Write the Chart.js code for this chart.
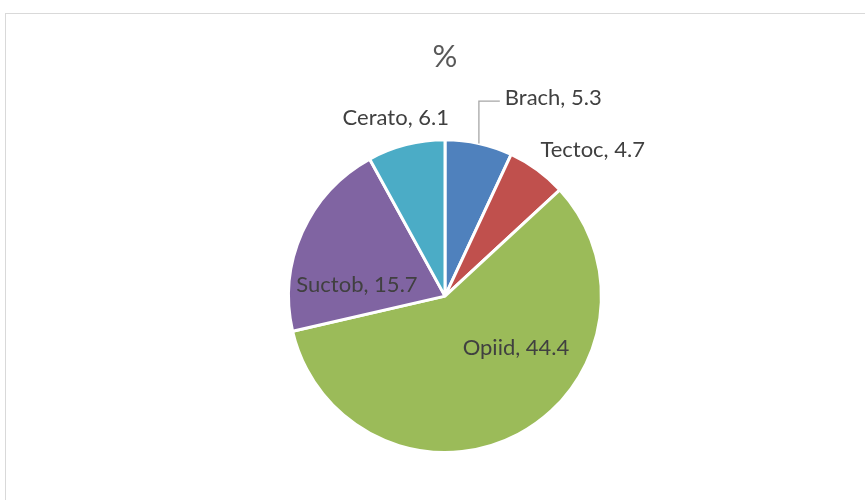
<!DOCTYPE html>
<html>
<head>
<meta charset="utf-8">
<script src="https://cdn.jsdelivr.net/npm/chart.js@4.4.1/dist/chart.umd.min.js"></script>
<style>
  html, body { margin: 0; padding: 0; background: #fff; }
  #wrap { width: 865px; height: 500px; }
</style>
</head>
<body>
<div id="wrap"><canvas id="pieChart" width="865" height="500"></canvas></div>
<script>
const categories = ['Brach', 'Tectoc', 'Opiid', 'Suctob', 'Cerato'];
const values = [5.3, 4.7, 44.4, 15.7, 6.1];
const colors = ['#4F81BD', '#C0504D', '#9BBB59', '#8064A2', '#4BACC6'];

// where Excel put each data label: angle (deg, clockwise from top) and distance in radii
const labelAngle = [28.3, 44.8, 124.4, 279.1, 344.8];
const labelDist = [1.46, 1.34, 0.55, 0.57, 1.20];

const fontFamily = 'Lato, "Open Sans", sans-serif';

const frame = {
  id: 'frame',
  beforeDraw(chart) {
    const ctx = chart.ctx;
    ctx.save();
    ctx.strokeStyle = '#D9D9D9';
    ctx.lineWidth = 1;
    ctx.strokeRect(5.5, 13.5, 900, 600);
    ctx.restore();
  }
};

const pieLabels = {
  id: 'pieLabels',
  afterDatasetsDraw(chart) {
    const ctx = chart.ctx;
    const arcs = chart.getDatasetMeta(0).data;
    ctx.save();
    ctx.font = '22px ' + fontFamily;
    ctx.fillStyle = '#404040';
    ctx.textAlign = 'center';
    ctx.textBaseline = 'middle';
    arcs.forEach((arc, i) => {
      const p = arc.getProps(['x', 'y', 'outerRadius', 'startAngle', 'endAngle']);
      const a = labelAngle[i] * Math.PI / 180;
      const r = p.outerRadius * labelDist[i];
      const lx = p.x + r * Math.sin(a);
      const ly = p.y - r * Math.cos(a) + 3;
      const text = categories[i] + ', ' + values[i];
      ctx.fillText(text, lx, ly);
      if (i === 0) {
        // leader line for the first label
        const mid = (p.startAngle + p.endAngle) / 2;
        const ex = p.x + p.outerRadius * Math.cos(mid);
        const ey = p.y + p.outerRadius * Math.sin(mid);
        const w = ctx.measureText(text).width;
        ctx.strokeStyle = '#A6A6A6';
        ctx.lineWidth = 1.3;
        ctx.beginPath();
        ctx.moveTo(ex, ey);
        ctx.lineTo(ex, ly + 3);
        ctx.lineTo(lx - w / 2 - 5, ly + 3);
        ctx.stroke();
      }
    });
    ctx.restore();
  }
};

new Chart(document.getElementById('pieChart'), {
  type: 'pie',
  data: {
    labels: categories,
    datasets: [{
      data: values,
      backgroundColor: colors,
      borderColor: '#FFFFFF',
      borderWidth: 3,
      hoverOffset: 0,
      offset: 0
    }]
  },
  options: {
    responsive: false,
    animation: false,
    layout: { padding: { top: 0, bottom: 46, left: 287, right: 262 } },
    plugins: {
      legend: { display: false },
      tooltip: { enabled: false },
      title: {
        display: true,
        text: '%',
        color: '#595959',
        font: { family: fontFamily, size: 31, weight: 'normal' },
        padding: { top: 38, bottom: 63 }
      }
    }
  },
  plugins: [frame, pieLabels]
});
</script>
</body>
</html>
